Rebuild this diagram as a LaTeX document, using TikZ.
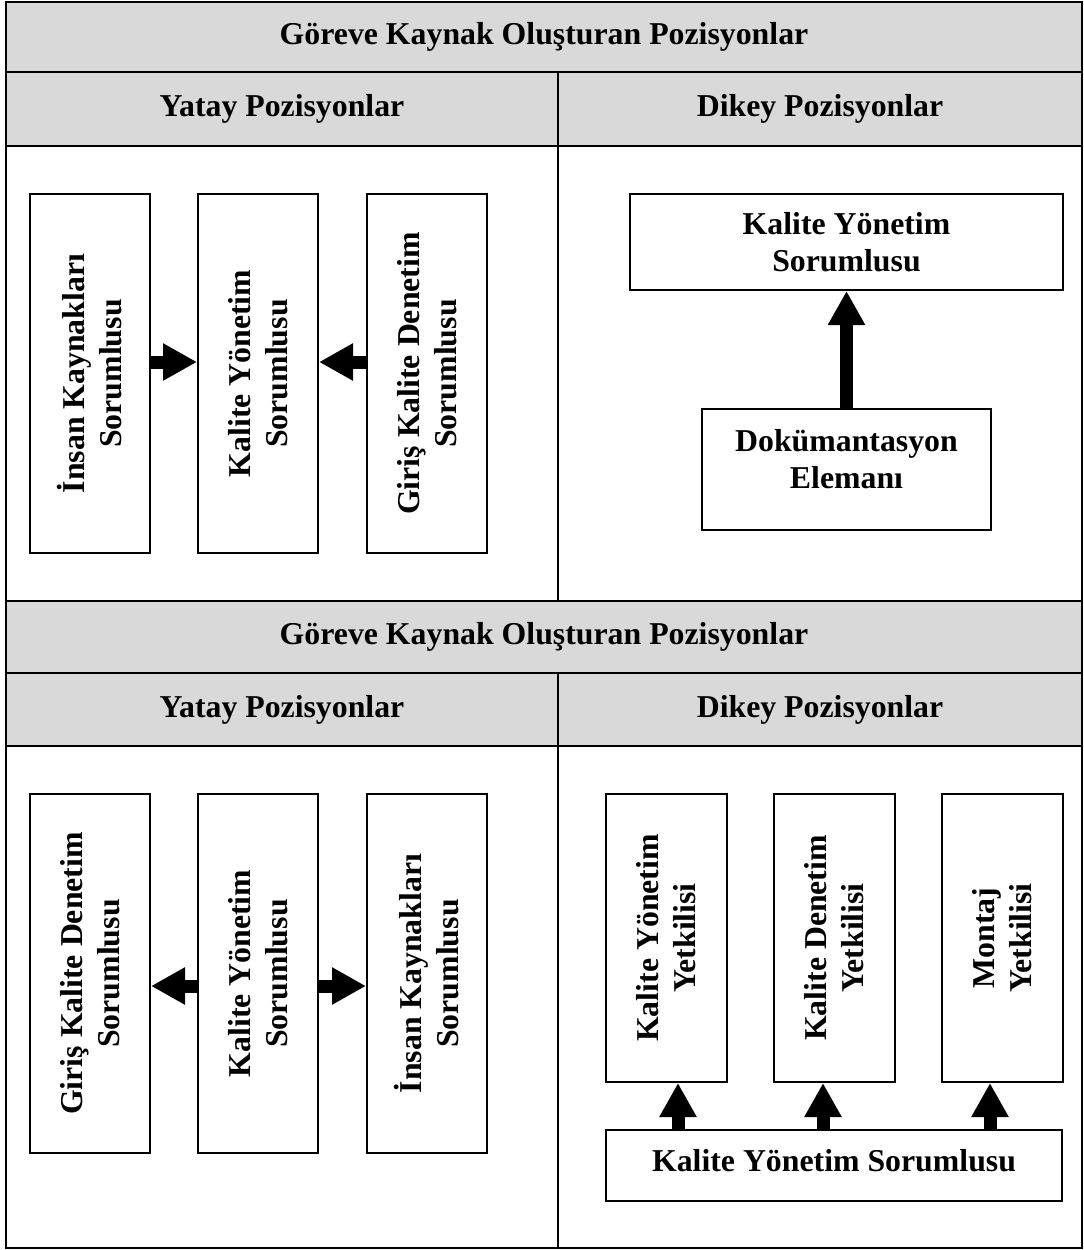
\documentclass[tikz,border=0pt]{standalone}
\usepackage{fontspec}
\setmainfont{Liberation Serif}
\usetikzlibrary{arrows.meta}
\definecolor{hdrgray}{RGB}{217,217,217}
\begin{document}
\begin{tikzpicture}[x=1pt,y=-1pt,
  every node/.style={font=\fontsize{31.8}{37}\selectfont\bfseries, align=center, inner sep=0pt},
  rule/.style={line width=2.6pt},
  box/.style={draw, line width=2pt},
  tall/.style={box, minimum width=120pt, minimum height=359pt},
  col/.style={box, minimum width=121pt, minimum height=288pt},
  vtxt/.style={rotate=90},
  blk/.style={line width=13pt, -{Triangle[length=34pt,width=35pt]}},
]
\useasboundingbox (0,0) rectangle (1084,1250);

% header bands
\fill[hdrgray] (6,2) rectangle (1082,146);
\fill[hdrgray] (6,601) rectangle (1082,746);

% table rules
\draw[rule] (6,2) rectangle (1082,1248);
\draw[rule] (6,72) -- (1082,72);
\draw[rule] (6,146) -- (1082,146);
\draw[rule] (6,601) -- (1082,601);
\draw[rule] (6,673) -- (1082,673);
\draw[rule] (6,746) -- (1082,746);
\draw[rule] (558,72) -- (558,601);
\draw[rule] (558,673) -- (558,1248);

% header texts
\node (h1) at (544,37) {Göreve Kaynak Oluşturan Pozisyonlar};
\node (h2) at (282,109) {Yatay Pozisyonlar};
\node (h3) at (820,109) {Dikey Pozisyonlar};
\node (h4) at (544,637) {Göreve Kaynak Oluşturan Pozisyonlar};
\node (h5) at (282,709.5) {Yatay Pozisyonlar};
\node (h6) at (820,709.5) {Dikey Pozisyonlar};

% upper half, horizontal positions
\node[tall] (a1) at (90,373.5) {};
\node[tall] (a2) at (258,373.5) {};
\node[tall] (a3) at (427,373.5) {};
\node[vtxt] (a1t) at (a1.center) {İnsan Kaynakları\\Sorumlusu};
\node[vtxt] (a2t) at (a2.center) {Kalite Yönetim\\Sorumlusu};
\node[vtxt] (a3t) at (a3.center) {Giriş Kalite Denetim\\Sorumlusu};
\draw[blk] ([yshift=11.5pt]a1.east) -- ([yshift=11.5pt]a2.west);
\draw[blk] ([yshift=11.5pt]a3.west) -- ([yshift=11.5pt]a2.east);

% upper half, vertical positions
\node[box, minimum width=433pt, minimum height=96pt] (kys) at (846.5,242) {Kalite Yönetim\\Sorumlusu};
\node[box, minimum width=289pt, minimum height=121pt] (doc) at (846.5,469.5) {};
\node (doct) at ([yshift=10.5pt]doc.center) {Dokümantasyon\\Elemanı};
\draw[blk] (doc.north) -- (kys.south);

% lower half, horizontal positions
\node[tall] (b1) at (90,973.5) {};
\node[tall] (b2) at (258,973.5) {};
\node[tall] (b3) at (427,973.5) {};
\node[vtxt] (b1t) at (b1.center) {Giriş Kalite Denetim\\Sorumlusu};
\node[vtxt] (b2t) at (b2.center) {Kalite Yönetim\\Sorumlusu};
\node[vtxt] (b3t) at (b3.center) {İnsan Kaynakları\\Sorumlusu};
\draw[blk] ([yshift=-12.5pt]b2.west) -- ([yshift=-12.5pt]b1.east);
\draw[blk] ([yshift=-12.5pt]b2.east) -- ([yshift=-12.5pt]b3.west);

% lower half, vertical positions
\node[col] (v1) at (666.5,938) {};
\node[col] (v2) at (834,938) {};
\node[col] (v3) at (1002.5,938) {};
\node[vtxt] (v1t) at (v1.center) {Kalite Yönetim\\Yetkilisi};
\node[vtxt] (v2t) at (v2.center) {Kalite Denetim\\Yetkilisi};
\node[vtxt] (v3t) at (v3.center) {Montaj\\Yetkilisi};
\node[box, minimum width=456pt, minimum height=71pt, text depth=10pt] (kb) at (834,1165.5) {Kalite Yönetim Sorumlusu};
\coordinate (t1) at ([xshift=11.5pt]v1.south);
\coordinate (t2) at ([xshift=-11pt]v2.south);
\coordinate (t3) at ([xshift=-12.5pt]v3.south);
\draw[blk] (t1 |- kb.north) -- (t1);
\draw[blk] (t2 |- kb.north) -- (t2);
\draw[blk] (t3 |- kb.north) -- (t3);
\end{tikzpicture}
\end{document}
